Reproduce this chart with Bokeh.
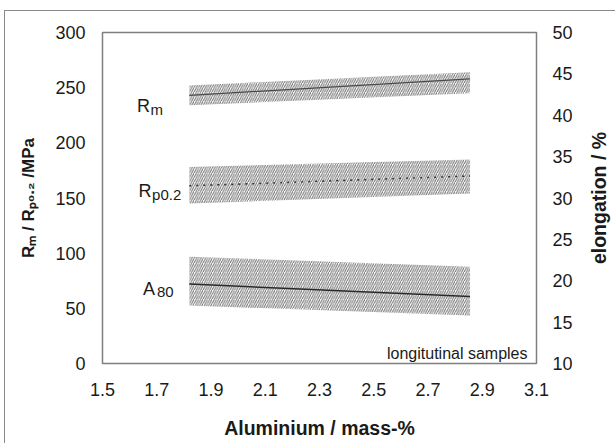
import math
from bokeh.plotting import figure
from bokeh.layouts import row
from bokeh.models import Range1d, LinearAxis, FixedTicker, Label, NumeralTickFormatter
from bokeh.embed import file_html
from bokeh.resources import INLINE

# ---------------- data ----------------
al_x = [1.82, 2.855]            # aluminium, mass-%
rm_mid = [243, 258]             # Rm, MPa
rm_hi = [252, 264]
rm_lo = [234, 245]
rp_mid = [161, 170]             # Rp0.2, MPa
rp_hi = [178, 185]
rp_lo = [145, 154]
a80_mid = [19.6, 18.1]          # A80 elongation, %
a80_hi = [22.9, 21.7]
a80_lo = [17.0, 15.8]

x_ticks = [1.5, 1.7, 1.9, 2.1, 2.3, 2.5, 2.7, 2.9, 3.1]
y_ticks = [0, 50, 100, 150, 200, 250, 300]
y2_ticks = [10, 15, 20, 25, 30, 35, 40, 45, 50]

# ---------------- layout ----------------
PW, RW, H = 570, 40, 432
ML, MR, MT, MB = 97, 36, 21, 80
FW = PW - ML - MR
FH = H - MT - MB
FONT = "Liberation Sans"
TXT = "#1a1a1a"

p = figure(width=PW, height=H, x_range=Range1d(1.5, 3.1), y_range=Range1d(0, 300),
           output_backend="svg", toolbar_location=None,
           min_border_left=ML, min_border_right=MR, min_border_top=MT, min_border_bottom=MB)
p.extra_y_ranges = {"el": Range1d(10, 50)}
p.xgrid.visible = False
p.ygrid.visible = False
p.outline_line_color = "#7f7f7f"
p.outline_line_width = 1.5
p.background_fill_color = "white"
p.border_fill_color = "white"

right = LinearAxis(y_range_name="el")
p.add_layout(right, "right")

for ax in [p.xaxis[0], p.yaxis[0], right]:
    ax.major_tick_in = 0
    ax.major_tick_out = 0
    ax.minor_tick_in = 0
    ax.minor_tick_out = 0
    ax.axis_line_color = None
    ax.major_label_text_font = FONT
    ax.major_label_text_font_size = "18px"
    ax.major_label_text_color = TXT
    ax.axis_label_text_font = FONT
    ax.axis_label_text_font_size = "19.5px"
    ax.axis_label_text_font_style = "bold"
    ax.axis_label_text_color = TXT

p.xaxis.ticker = FixedTicker(ticks=x_ticks)
p.xaxis.formatter = NumeralTickFormatter(format="0.0")
p.xaxis.major_label_standoff = 19
p.xaxis.axis_label = "Aluminium / mass-%"
p.xaxis.axis_label_standoff = 18

p.yaxis[0].ticker = FixedTicker(ticks=y_ticks)
p.yaxis[0].major_label_standoff = 17
p.yaxis[0].axis_label = "R\u2098 / R\u209a\u2080.\u2082 /MPa"
p.yaxis[0].axis_label_text_font_size = "17px"
p.yaxis[0].axis_label_standoff = 14

right.ticker = FixedTicker(ticks=y2_ticks)
right.major_label_standoff = 16

# ---------------- bands ----------------
HATCH = dict(fill_alpha=0, hatch_pattern="/", hatch_color="#707070", hatch_scale=4.5, hatch_weight=1)
p.varea(x=al_x, y1=rm_lo, y2=rm_hi, **HATCH)
p.varea(x=al_x, y1=rp_lo, y2=rp_hi, **HATCH)
p.varea(x=al_x, y1=a80_lo, y2=a80_hi, y_range_name="el", **HATCH)

p.line(al_x, rm_mid, line_color="#4a4a4a", line_width=1.3)
p.line(al_x, rp_mid, line_color="#333333", line_width=1.5, line_dash="2 5")
p.line(al_x, a80_mid, line_color="#2a2a2a", line_width=1.5, y_range_name="el")

# ---------------- curve labels (main letter + subscript) ----------------
px_y = 300 / FH            # MPa per pixel
MAIN, SUB = 18, 15
curve_labels = [("R", "m", 1.627, 233.8, 13.5), ("R", "p0.2", 1.633, 155.9, 13.5),
                ("A", "80", 1.649, 67.7, 14.0)]
for big, small, lx, ly, xo in curve_labels:
    p.add_layout(Label(x=lx, y=ly, text=big, text_font=FONT, text_font_size=f"{MAIN}px",
                       text_color=TXT, text_align="left", text_baseline="alphabetic"))
    p.add_layout(Label(x=lx, y=ly - 3.5 * px_y, text=small, x_offset=xo, text_font=FONT,
                       text_font_size=f"{SUB}px", text_color=TXT,
                       text_align="left", text_baseline="alphabetic"))

p.add_layout(Label(x=3.1, y=9.3, x_offset=-9, text="longitutinal samples", text_font=FONT,
                   text_font_size="16px", text_color=TXT, text_align="right",
                   text_baseline="alphabetic"))

# ---------------- right title: axis label of a narrow side figure (reads upward) ----------------
rfig = figure(width=RW, height=H, x_range=Range1d(0, 1), y_range=Range1d(0, 1),
              output_backend="svg", toolbar_location=None, x_axis_location=None,
              min_border_left=36, min_border_right=0, min_border_top=MT, min_border_bottom=MB)
rfig.xgrid.visible = False
rfig.ygrid.visible = False
rfig.outline_line_color = None
rfig.background_fill_color = "white"
rfig.border_fill_color = "white"
ra = rfig.yaxis[0]
ra.ticker = FixedTicker(ticks=[])
ra.major_tick_in = 0
ra.major_tick_out = 0
ra.minor_tick_in = 0
ra.minor_tick_out = 0
ra.major_label_standoff = 0
ra.axis_line_color = None
ra.axis_label = "elongation / %"
ra.axis_label_standoff = 2
ra.axis_label_text_font = FONT
ra.axis_label_text_font_size = "19.5px"
ra.axis_label_text_font_style = "bold"
ra.axis_label_text_color = TXT

page = row(p, rfig)
page.styles = {"border-left": "1px solid #8a8a8a", "border-top": "1px solid #8a8a8a",
               "margin-left": "4px", "margin-top": "10px"}

open("out.html", "w").write(file_html(page, INLINE))
